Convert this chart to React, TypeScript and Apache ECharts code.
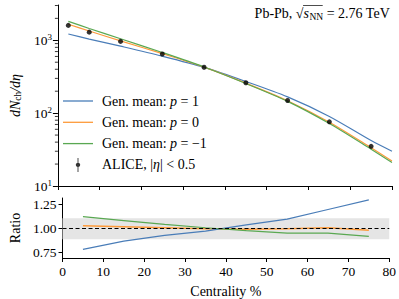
import React, { useEffect, useRef } from "react";
import * as echarts from "echarts";

const FONT = "Liberation Serif";

const aliceCent = [2.5, 7.5, 15, 25, 35, 45, 55, 65, 75];
const aliceVals = [1601, 1294, 966, 649, 426, 261, 149, 76, 35];

const curveCent = [2.5, 7.5, 15, 25, 35, 45, 55, 65, 75, 80];
const p1Vals = [1220, 1040, 830, 605, 425, 272, 167, 90, 42, 30];
const p0Vals = [1660, 1340, 980, 655, 428, 258, 148, 75, 33.5, 22];
const pm1Vals = [1820, 1450, 1048, 680, 430, 255, 145, 72, 32, 21];

const ratioCent = [5, 15, 25, 35, 45, 55, 65, 75];
const ratioP1 = [0.785, 0.87, 0.93, 0.975, 1.04, 1.1, 1.2, 1.3];
const ratioP0 = [1.03, 1.02, 1.01, 1.0, 0.995, 1.0, 1.01, 0.985];
const ratioPm1 = [1.125, 1.085, 1.045, 1.01, 0.98, 0.955, 0.955, 0.92];

const majorTickVals = [10, 100, 1000];
const minorTickVals = [20, 30, 40, 50, 60, 70, 80, 90, 200, 300, 400, 500, 600, 700, 800, 900, 2000, 3000];
const ratioTicks = [0.75, 1.0, 1.25];

const BLUE = "#4a7db8";
const ORANGE = "#fd9a3a";
const GREEN = "#5aa852";

const NAME_P1 = "Gen. mean: p=1";
const NAME_P0 = "Gen. mean: p=0";
const NAME_PM1 = "Gen. mean: p=-1";
const NAME_ALICE = "ALICE";

const LINE_ICON = "path://M0,0 L30,0 L30,1.3 L0,1.3 Z";

function measure(font: string, text: string): number {
  const c = document.createElement("canvas").getContext("2d");
  if (!c) return text.length * 6;
  c.font = font;
  return c.measureText(text).width;
}

export default function App() {
  const ref = useRef<HTMLDivElement>(null);
  useEffect(() => {
    if (!ref.current) return;
    const chart = echarts.init(ref.current, null, { renderer: "svg" });
    const zip = (xs: number[], ys: number[]) => xs.map((x, i) => [x, ys[i]]);
    const axisLine = { show: true, lineStyle: { color: "#000", width: 1 } };
    const tickStyle = { show: true, length: 4, inside: false, lineStyle: { color: "#000", width: 1 } };
    const txt = { fontFamily: FONT, fontSize: 13.5, color: "#000" };
    const txt14 = { fontFamily: FONT, fontSize: 14, color: "#000" };
    const ital14 = { fontFamily: FONT, fontSize: 14, fontStyle: "italic", color: "#000" };
    const legendText: Record<string, string> = {
      [NAME_P1]: "{t|Gen. mean: }{i|p}{t| = 1}",
      [NAME_P0]: "{t|Gen. mean: }{i|p}{t| = 0}",
      [NAME_PM1]: "{t|Gen. mean: }{i|p}{t| = \u22121}",
      [NAME_ALICE]: "{t|ALICE, |}{i|\u03b7}{t|| < 0.5}",
    };

    // title layout (right aligned)
    const RIGHT = 390;
    const f14 = "14px " + FONT;
    const wTev = measure(f14, " = 2.76 TeV");
    const wNN = measure("9.5px " + FONT, "NN");
    const wS = measure("italic 14px " + FONT, "s");
    const wSq = measure(f14, "\u221a");
    const xTev = RIGHT - wTev;
    const xNN = xTev - wNN;
    const xS = xNN - wS - 0.5;
    const xSq = xS - wSq;
    const TY = 13;

    const option: any = {
      animation: false,
      textStyle: { fontFamily: FONT },
      grid: [
        { left: 50, top: 5, right: 7, height: 181 },
        { left: 50, top: 198, right: 7, height: 60 },
      ],
      xAxis: [
        {
          gridIndex: 0, type: "value", min: 0, max: 80, interval: 10,
          axisLine, axisTick: tickStyle, axisLabel: { show: false }, splitLine: { show: false },
        },
        {
          gridIndex: 1, type: "value", min: 0, max: 80, interval: 10,
          axisLine, axisTick: tickStyle,
          axisLabel: { ...txt, margin: 6, formatter: (v: number) => "{a|" + v + "}", rich: { a: txt } },
          splitLine: { show: false },
          name: "{a|Centrality %}", nameLocation: "middle", nameGap: 26,
          nameTextStyle: { ...txt14, rich: { a: txt14 } },
        },
      ],
      yAxis: [
        {
          gridIndex: 0, type: "log", logBase: 10, min: 10, max: 3050,
          axisLine, axisTick: { ...tickStyle, length: 5, customValues: majorTickVals }, splitLine: { show: false },
          axisLabel: {
            ...txt, margin: 6, customValues: majorTickVals,
            formatter: (v: number) => {
              const e = Math.log10(v);
              if (Math.abs(e - Math.round(e)) > 1e-6) return "";
              return "{b|10}{s|" + Math.round(e) + "}";
            },
            rich: {
              b: txt,
              s: { fontFamily: FONT, fontSize: 9, color: "#000", verticalAlign: "top", padding: [0, 0, 6, 0] },
            },
          },
          name: "{i|dN}{sub|ch}{i|/d\u03b7}",
          nameLocation: "middle", nameGap: 23, nameRotate: 90,
          nameTextStyle: {
            rich: {
              i: { fontFamily: FONT, fontSize: 14, fontStyle: "italic", color: "#000" },
              sub: { fontFamily: FONT, fontSize: 9.5, color: "#000", padding: [6, 0, 0, 0] },
            },
          },
        },
        {
          gridIndex: 1, type: "value", min: 0.695, max: 1.32,
          axisLine, axisTick: { ...tickStyle, customValues: ratioTicks }, splitLine: { show: false },
          axisLabel: {
            ...txt, margin: 6, customValues: ratioTicks,
            formatter: (v: number) => "{a|" + v.toFixed(2) + "}", rich: { a: txt },
          },
          name: "{a|Ratio}", nameLocation: "middle", nameGap: 27, nameRotate: 90,
          nameTextStyle: { ...txt14, rich: { a: txt14 } },
        },
      ],
      legend: {
        left: 58, top: 89, orient: "vertical", itemWidth: 30, itemHeight: 14, itemGap: 7.3,
        data: [
          { name: NAME_P1, icon: LINE_ICON },
          { name: NAME_P0, icon: LINE_ICON },
          { name: NAME_PM1, icon: LINE_ICON },
          { name: NAME_ALICE, icon: "path://M4.5,0 L5.5,0 L5.5,16 L4.5,16 Z M5,5.5 A2.5,2.5 0 1 1 4.999,5.5 Z" },
        ],
        formatter: (n: string) => legendText[n] || n,
        textStyle: { rich: { t: txt14, i: ital14 }, padding: [0, 0, 0, 4] },
        selectedMode: false,
      },
      graphic: [
        { type: "text", x: xTev, y: TY, style: { text: " = 2.76 TeV", fontFamily: FONT, fontSize: 14, fill: "#000", verticalAlign: "middle" } },
        { type: "text", x: xNN, y: TY + 4, style: { text: "NN", fontFamily: FONT, fontSize: 9.5, fill: "#000", verticalAlign: "middle" } },
        { type: "text", x: xS, y: TY, style: { text: "s", fontFamily: FONT, fontSize: 14, fontStyle: "italic", fill: "#000", verticalAlign: "middle" } },
        { type: "text", x: xSq, y: TY, style: { text: "\u221a", fontFamily: FONT, fontSize: 14, fill: "#000", verticalAlign: "middle" } },
        { type: "text", x: xSq, y: TY, style: { text: "Pb-Pb, ", fontFamily: FONT, fontSize: 14, fill: "#000", verticalAlign: "middle", align: "right" } },
        { type: "line", shape: { x1: xSq + wSq - 0.5, y1: TY - 7.5, x2: xTev - 0.5, y2: TY - 7.5 }, style: { stroke: "#000", lineWidth: 0.7 } },
      ],
      series: [
        {
          name: "minorTicks", type: "custom", xAxisIndex: 0, yAxisIndex: 0, silent: true, clip: false,
          data: minorTickVals.map((v) => [0, v]),
          encode: { x: 0, y: 1 },
          renderItem: (params: any, api: any) => {
            const p = api.coord([0, api.value(1)]);
            return {
              type: "line",
              shape: { x1: p[0] - 3, y1: p[1], x2: p[0], y2: p[1] },
              style: { stroke: "#000", lineWidth: 0.8 },
            };
          },
        },
        {
          name: NAME_P1, type: "line", xAxisIndex: 0, yAxisIndex: 0, data: zip(curveCent, p1Vals),
          smooth: 0.3, symbol: "none", lineStyle: { color: BLUE, width: 1.2 }, itemStyle: { color: BLUE },
        },
        {
          name: NAME_P0, type: "line", xAxisIndex: 0, yAxisIndex: 0, data: zip(curveCent, p0Vals),
          smooth: 0.3, symbol: "none", lineStyle: { color: ORANGE, width: 1.2 }, itemStyle: { color: ORANGE },
        },
        {
          name: NAME_PM1, type: "line", xAxisIndex: 0, yAxisIndex: 0, data: zip(curveCent, pm1Vals),
          smooth: 0.3, symbol: "none", lineStyle: { color: GREEN, width: 1.2 }, itemStyle: { color: GREEN },
        },
        {
          name: NAME_ALICE, type: "scatter", xAxisIndex: 0, yAxisIndex: 0, data: zip(aliceCent, aliceVals),
          symbol: "circle", symbolSize: 5, itemStyle: { color: "#000" }, z: 5,
        },
        {
          name: "band", type: "line", xAxisIndex: 1, yAxisIndex: 1, data: [], silent: true,
          markArea: {
            silent: true,
            itemStyle: { color: "#e5e5e5" },
            data: [[{ xAxis: 0, yAxis: 0.89 }, { xAxis: 80, yAxis: 1.11 }]],
          },
          markLine: {
            silent: true, symbol: "none", label: { show: false },
            lineStyle: { color: "#000", type: [4, 2.5], width: 1 },
            data: [{ yAxis: 1 }],
          },
          z: 1,
        },
        {
          name: "r1", type: "line", xAxisIndex: 1, yAxisIndex: 1, data: zip(ratioCent, ratioP1),
          symbol: "none", lineStyle: { color: BLUE, width: 1.2 }, z: 3,
        },
        {
          name: "r0", type: "line", xAxisIndex: 1, yAxisIndex: 1, data: zip(ratioCent, ratioP0),
          symbol: "none", lineStyle: { color: ORANGE, width: 1.5 }, z: 2,
        },
        {
          name: "rm1", type: "line", xAxisIndex: 1, yAxisIndex: 1, data: zip(ratioCent, ratioPm1),
          symbol: "none", lineStyle: { color: GREEN, width: 1.2 }, z: 3,
        },
      ],
    };
    chart.setOption(option);
    return () => chart.dispose();
  }, []);
  return <div ref={ref} style={{ width: 399, height: 299, position: "absolute", left: 0, top: 0 }} />;
}
